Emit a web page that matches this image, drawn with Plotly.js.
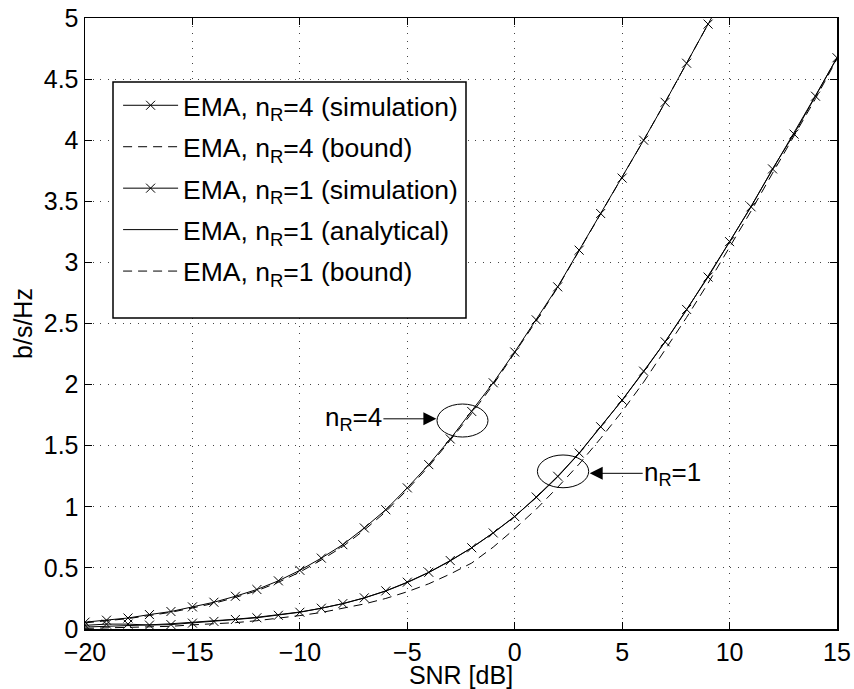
<!DOCTYPE html>
<html>
<head>
<meta charset="utf-8">
<script src="https://cdn.plot.ly/plotly-3.0.1.min.js"></script>
<style>
  html, body { margin: 0; padding: 0; background: #fff; }
  #plot { width: 854px; height: 689px; }
</style>
</head>
<body>
<div id="plot"></div>
<script>
// SNR grid in dB
const snrFull = [-20,-19,-18,-17,-16,-15,-14,-13,-12,-11,-10,-9,-8,-7,-6,-5,-4,-3,-2,-1,0,1,2,3,4,5,6,7,8,9,10,11,12,13,14,15];
const snrFour = [-20,-19,-18,-17,-16,-15,-14,-13,-12,-11,-10,-9,-8,-7,-6,-5,-4,-3,-2,-1,0,1,2,3,4,5,6,7,8,9];
const snrFourBound = [-20,-19,-18,-17,-16,-15,-14,-13,-12,-11,-10,-9,-8,-7,-6,-5,-4,-3,-2,-1,0,1,2,3,4,5,6,7,8,9,10];

// Spectral efficiency [b/s/Hz], n_R = 4
const emaR4Sim = [0.056,0.072,0.090,0.118,0.143,0.181,0.219,0.268,0.323,0.394,0.480,0.580,0.690,0.827,0.976,1.155,1.345,1.555,1.780,2.015,2.267,2.530,2.800,3.100,3.400,3.690,4.000,4.310,4.630,4.950];
const emaR4Bound = [0.050,0.066,0.085,0.110,0.137,0.172,0.210,0.258,0.313,0.382,0.466,0.565,0.675,0.810,0.960,1.140,1.330,1.545,1.765,2.000,2.255,2.520,2.795,3.095,3.395,3.690,4.000,4.310,4.630,4.950,5.270];

// Spectral efficiency [b/s/Hz], n_R = 1
const emaR1Sim = [0.030,0.040,0.040,0.032,0.036,0.048,0.062,0.078,0.092,0.112,0.137,0.170,0.208,0.255,0.312,0.383,0.464,0.560,0.665,0.786,0.920,1.080,1.250,1.440,1.655,1.873,2.110,2.350,2.615,2.880,3.170,3.455,3.765,4.050,4.360,4.675];
const emaR1Analytical = [0.016,0.021,0.027,0.034,0.043,0.054,0.066,0.080,0.096,0.115,0.139,0.170,0.207,0.254,0.311,0.380,0.462,0.557,0.665,0.787,0.922,1.075,1.245,1.437,1.650,1.872,2.105,2.350,2.610,2.885,3.168,3.458,3.757,4.058,4.365,4.675];
const emaR1Bound = [0.005,0.008,0.012,0.016,0.022,0.034,0.042,0.052,0.068,0.087,0.110,0.135,0.167,0.205,0.250,0.305,0.370,0.450,0.540,0.670,0.820,0.980,1.160,1.350,1.560,1.780,2.020,2.280,2.550,2.830,3.120,3.420,3.730,4.030,4.340,4.665];

// Axis ticks
const xTicks = [-20,-15,-10,-5,0,5,10,15];
const yTicks = [0,0.5,1,1.5,2,2.5,3,3.5,4,4.5,5];
const yTickText = ['0','0.5','1','1.5','2','2.5','3','3.5','4','4.5','5'];

const FONT = 'Liberation Sans, Arial, Helvetica, sans-serif';
const dashPattern = '9px,6px';
const markerStyle = {symbol: 'x-thin', size: 9, line: {width: 1, color: '#000'}, color: '#000'};

const traces = [
  {x: snrFour, y: emaR4Sim, name: 'EMA, n<sub>R</sub>=4 (simulation)', mode: 'lines+markers',
   line: {color: '#000', width: 1}, marker: markerStyle, legendgroup: 'a'},
  {x: snrFourBound, y: emaR4Bound, name: 'EMA, n<sub>R</sub>=4 (bound)', mode: 'lines',
   line: {color: '#000', width: 1, dash: dashPattern}, legendgroup: 'b'},
  {x: snrFull, y: emaR1Sim, name: 'EMA, n<sub>R</sub>=1 (simulation)', mode: 'lines+markers',
   line: {color: '#000', width: 1}, marker: markerStyle, legendgroup: 'c'},
  {x: snrFull, y: emaR1Analytical, name: 'EMA, n<sub>R</sub>=1 (analytical)', mode: 'lines',
   line: {color: '#000', width: 1}, legendgroup: 'd'},
  {x: snrFull, y: emaR1Bound, name: 'EMA, n<sub>R</sub>=1 (bound)', mode: 'lines',
   line: {color: '#000', width: 1, dash: dashPattern}, legendgroup: 'e'}
];

const axisCommon = {
  showline: true, linecolor: '#000', linewidth: 1.5, mirror: 'ticks',
  ticks: 'inside', ticklen: 7, tickwidth: 1, tickcolor: '#000',
  showgrid: true, gridcolor: '#444', gridwidth: 1, griddash: '1px,6.5px',
  zeroline: false, tickfont: {family: FONT, size: 25, color: '#000'}
};

const layout = {
  width: 854, height: 689,
  margin: {l: 85, r: 17, t: 18, b: 60},
  paper_bgcolor: '#fff', plot_bgcolor: '#fff',
  font: {family: FONT, size: 25, color: '#000'},
  showlegend: true,
  legend: {
    x: 0.044, y: 0.896, xanchor: 'left', yanchor: 'top',
    bgcolor: 'rgba(0,0,0,0)', borderwidth: 0,
    font: {family: FONT, size: 26.5, color: '#000'},
    itemwidth: 55, tracegroupgap: 4
  },
  xaxis: Object.assign({}, axisCommon, {
    range: [-20, 15], tickmode: 'array', tickvals: xTicks,
    title: {text: 'SNR [dB]', font: {family: FONT, size: 25, color: '#000'}, standoff: 0}
  }),
  yaxis: Object.assign({}, axisCommon, {
    range: [0, 5], tickmode: 'array', tickvals: yTicks, ticktext: yTickText,
    title: {text: 'b/s/Hz', font: {family: FONT, size: 25, color: '#000'}, standoff: 4}
  }),
  shapes: [
    // legend frame (opaque, sits over the grid)
    {type: 'rect', xref: 'paper', yref: 'paper', layer: 'above',
     x0: (113 - 85) / 752, x1: (466 - 85) / 752, y0: (629 - 318) / 611, y1: (629 - 82) / 611,
     fillcolor: '#fff', line: {color: '#000', width: 1.5}},
    {type: 'circle', xref: 'x', yref: 'y', x0: -3.617, x1: -1.244, y0: 1.571, y1: 1.841,
     line: {color: '#000', width: 1}},
    {type: 'circle', xref: 'x', yref: 'y', x0: 1.056, x1: 3.443, y0: 1.156, y1: 1.424,
     line: {color: '#000', width: 1}}
  ],
  annotations: [
    {x: -3.645, y: 1.72, xref: 'x', yref: 'y', ax: -83, ay: 0,
     text: 'n<sub>R</sub>=4', showarrow: true, arrowhead: 2, arrowsize: 2.6, arrowwidth: 1,
     arrowcolor: '#000', font: {family: FONT, size: 26, color: '#000'}},
    {x: 3.49, y: 1.274, xref: 'x', yref: 'y', ax: 83, ay: 0,
     text: 'n<sub>R</sub>=1', showarrow: true, arrowhead: 2, arrowsize: 2.6, arrowwidth: 1,
     arrowcolor: '#000', font: {family: FONT, size: 26, color: '#000'}}
  ]
};

Plotly.newPlot('plot', traces, layout, {displayModeBar: false, staticPlot: true});
</script>
</body>
</html>
